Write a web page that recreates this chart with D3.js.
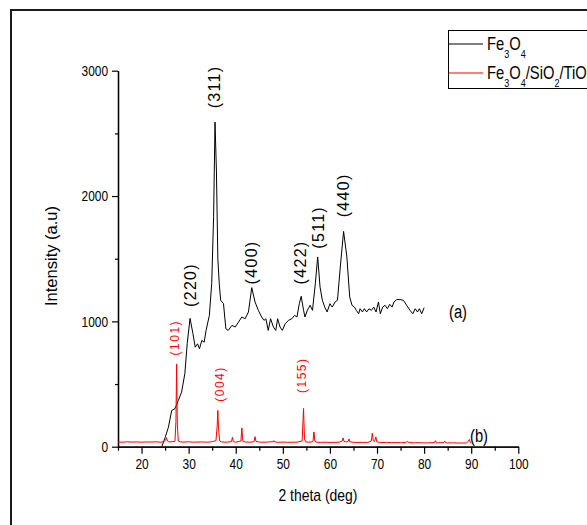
<!DOCTYPE html>
<html>
<head>
<meta charset="utf-8">
<script src="https://cdn.jsdelivr.net/npm/d3@7/dist/d3.min.js"></script>
<style>
  html, body { margin: 0; padding: 0; background: #fff; }
  svg { display: block; font-family: "Liberation Sans", Arial, sans-serif; }
</style>
</head>
<body>
<div id="chart"></div>
<script>
// XRD patterns: Fe3O4 (a) and Fe3O4/SiO2/TiO2 (b).
const W = 587;
const H = 525;
const NARROW = 0.82; // the original uses a narrow face; squeeze Liberation Sans to match

// Fe3O4 pattern (2 theta, intensity)
const blackX = [24.3, 25.0, 25.7, 26.4, 27.1, 27.8, 28.5, 29.2, 29.7, 30.3, 30.9, 31.4, 31.9, 32.3, 32.8, 33.3, 33.7, 34.4, 34.9, 35.3, 35.6, 35.9, 36.2, 36.5, 36.8, 37.4, 37.9, 38.4, 39.2, 39.9, 40.6, 41.3, 42.0, 42.7, 43.4, 44.1, 44.8, 45.5, 46.0, 46.4, 46.9, 47.4, 48.0, 48.5, 48.9, 49.4, 49.9, 50.5, 51.2, 51.9, 52.5, 53.0, 53.5, 53.9, 54.4, 54.7, 55.2, 55.8, 56.3, 56.9, 57.4, 57.9, 58.4, 58.9, 59.4, 60.0, 60.5, 61.1, 61.6, 62.2, 62.9, 63.6, 64.2, 64.7, 65.2, 65.6, 66.1, 66.4, 66.9, 67.3, 67.8, 68.3, 68.8, 69.3, 69.8, 70.3, 70.7, 71.2, 71.7, 72.2, 72.7, 73.2, 73.6, 74.2, 74.9, 75.6, 76.3, 77.0, 77.6, 78.1, 78.6, 79.0, 79.5, 80.0];
const blackY = [0, 72, 155, 288, 304, 368, 435, 584, 824, 1024, 904, 794, 821, 781, 848, 834, 928, 1048, 1304, 1834, 2590, 2200, 1500, 1301, 1168, 1141, 941, 928, 968, 955, 995, 1035, 1021, 1075, 1269, 1155, 1088, 1035, 1008, 1021, 928, 1021, 955, 928, 1021, 955, 928, 981, 1008, 1021, 1048, 1035, 1141, 1200, 1088, 1035, 1088, 1128, 1088, 1301, 1514, 1274, 1168, 1114, 1075, 1141, 1114, 1155, 1168, 1434, 1718, 1514, 1194, 1128, 1114, 1088, 1061, 1101, 1075, 1101, 1075, 1101, 1088, 1114, 1075, 1155, 1061, 1114, 1128, 1101, 1136, 1114, 1155, 1174, 1174, 1168, 1128, 1088, 1061, 1101, 1075, 1101, 1061, 1109];

// Fe3O4/SiO2/TiO2 pattern
const redX = [15, 16, 17, 18, 19, 20, 21, 22, 23, 24, 24.8, 25.1, 25.3, 25.5, 25.8, 26.5, 27.1, 27.3, 27.45, 27.6, 27.8, 28.3, 29, 30, 31, 32, 33, 34, 35, 35.8, 36.05, 36.2, 36.35, 36.6, 37, 38, 39.1, 39.3, 39.5, 40, 41.1, 41.3, 41.5, 42, 43, 43.9, 44.1, 44.3, 45, 46, 47, 48, 48.1, 48.3, 49, 50, 51, 52, 53, 54.1, 54.4, 54.6, 54.9, 55.5, 56.4, 56.6, 56.8, 57.2, 58, 59, 60, 61, 62, 62.6, 62.8, 63.0, 63.5, 63.9, 64.05, 64.2, 65, 66, 67, 68, 68.8, 69.0, 69.2, 69.5, 69.75, 69.95, 70.5, 71, 72, 73, 74, 75, 76, 76.5, 76.8, 77, 78, 79, 80, 81, 82.2, 82.4, 82.6, 83, 84.2, 84.4, 84.6, 85, 86, 87, 88, 89, 89.4, 89.6, 89.8, 90];
const redY = [38, 36, 39, 37, 38, 36, 38, 37, 39, 36, 40, 55, 72, 45, 38, 40, 42, 200, 661, 180, 45, 38, 37, 39, 36, 37, 38, 36, 40, 48, 160, 290, 140, 45, 38, 36, 40, 75, 40, 36, 45, 150, 45, 38, 36, 40, 80, 42, 37, 36, 38, 40, 48, 38, 35, 37, 35, 36, 36, 45, 305, 60, 38, 36, 40, 118, 45, 36, 35, 36, 34, 35, 36, 45, 70, 42, 38, 45, 62, 40, 35, 34, 35, 34, 45, 108, 48, 42, 78, 40, 34, 33, 35, 32, 33, 32, 33, 42, 33, 32, 31, 32, 30, 31, 33, 48, 32, 31, 33, 44, 31, 30, 31, 29, 30, 29, 45, 58, 35, 30];

const xMajor = [20, 30, 40, 50, 60, 70, 80, 90, 100];
const xMinor = [15, 25, 35, 45, 55, 65, 75, 85, 95];
const yMajor = [0, 1000, 2000, 3000];
const yMinor = [500, 1500, 2500];

// Miller-index annotations: [2theta, intensity anchor, label]
const blackPeaks = [[30.5, 1290, '(220)'], [35.6, 2870, '(311)'], [43.5, 1470, '(400)'], [53.8, 1470, '(422)'], [57.6, 1750, '(511)'], [62.9, 2005, '(440)']];
const redPeaks = [[27.0, 870, '(101)'], [36.6, 500, '(004)'], [54.1, 570, '(155)']];

const x = d3.scaleLinear().domain([15, 100]).range([118, 518.3]);
const y = d3.scaleLinear().domain([0, 3000]).range([446.7, 70.7]);

const svg = d3.select('#chart').append('svg')
  .attr('width', W).attr('height', H)
  .attr('viewBox', `0 0 ${W} ${H}`);

// Compress glyphs horizontally, keeping the anchor.
function squeeze(sel, k = NARROW) {
  sel.each(function () {
    const L = this.getComputedTextLength();
    d3.select(this).attr('textLength', L * k).attr('lengthAdjust', 'spacingAndGlyphs');
  });
}

// outer frame (runs past the right and bottom edges)
svg.append('rect')
  .attr('x', 11).attr('y', 10)
  .attr('width', 640).attr('height', 560)
  .attr('fill', 'none').attr('stroke', '#1a1a1a').attr('stroke-width', 2);

function styleAxis(g) {
  g.selectAll('path.domain').attr('stroke', '#000').attr('stroke-width', 1.3);
  g.selectAll('.tick line').attr('stroke', '#000').attr('stroke-width', 1.2);
  g.selectAll('.tick text')
    .attr('font-family', '"Liberation Sans", Arial, sans-serif')
    .attr('font-size', 14.5).attr('fill', '#000');
}

const xAxisG = svg.append('g').attr('transform', `translate(0,${y(0)})`)
  .call(d3.axisBottom(x).tickValues(xMajor).tickSize(7).tickSizeOuter(0).tickPadding(5).tickFormat(d3.format('d')));
styleAxis(xAxisG);
squeeze(xAxisG.selectAll('.tick text'));

const xMinorG = svg.append('g').attr('transform', `translate(0,${y(0)})`)
  .call(d3.axisBottom(x).tickValues(xMinor).tickSize(4).tickSizeOuter(0).tickFormat(''));
styleAxis(xMinorG);

const yAxisG = svg.append('g').attr('transform', `translate(${x(15)},0)`)
  .call(d3.axisLeft(y).tickValues(yMajor).tickSize(6).tickSizeOuter(0).tickPadding(4).tickFormat(d3.format('d')));
styleAxis(yAxisG);
squeeze(yAxisG.selectAll('.tick text'));

const yMinorG = svg.append('g').attr('transform', `translate(${x(15)},0)`)
  .call(d3.axisLeft(y).tickValues(yMinor).tickSize(3).tickSizeOuter(0).tickFormat(''));
styleAxis(yMinorG);

// axis titles
const xTitle = svg.append('text')
  .attr('x', 318).attr('y', 501)
  .attr('text-anchor', 'middle').attr('font-size', 17)
  .text('2 theta (deg)');
squeeze(xTitle);

svg.append('text')
  .attr('transform', 'translate(57,256) rotate(-90)')
  .attr('text-anchor', 'middle').attr('font-size', 16.5)
  .text('Intensity (a.u)');

// patterns
const line = d3.line().x(d => x(d[0])).y(d => y(d[1]));

svg.append('path')
  .datum(d3.zip(blackX, blackY))
  .attr('d', line)
  .attr('fill', 'none').attr('stroke', '#000').attr('stroke-width', 1)
  .attr('stroke-linejoin', 'round');

svg.append('path')
  .datum(d3.zip(redX, redY))
  .attr('d', line)
  .attr('fill', 'none').attr('stroke', '#ff0000').attr('stroke-width', 1)
  .attr('stroke-linejoin', 'round');

// peak labels, rotated
svg.append('g').selectAll('text')
  .data(blackPeaks)
  .join('text')
  .attr('transform', d => `translate(${x(d[0]) + 5},${y(d[1])}) rotate(-90)`)
  .attr('text-anchor', 'middle')
  .attr('font-size', 16).attr('letter-spacing', 1.3).attr('fill', '#000')
  .text(d => d[2]);

svg.append('g').selectAll('text')
  .data(redPeaks)
  .join('text')
  .attr('transform', d => `translate(${x(d[0]) + 4},${y(d[1])}) rotate(-90)`)
  .attr('text-anchor', 'middle')
  .attr('font-size', 12).attr('letter-spacing', 1.5).attr('fill', '#ff0000')
  .text(d => d[2]);

const tagA = svg.append('text')
  .attr('x', 458).attr('y', 318).attr('text-anchor', 'middle')
  .attr('font-size', 18).text('(a)');
const tagB = svg.append('text')
  .attr('x', 479).attr('y', 442).attr('text-anchor', 'middle')
  .attr('font-size', 18).text('(b)');
squeeze(tagA);
squeeze(tagB);

// legend
const legend = svg.append('g');
legend.append('rect')
  .attr('x', 448.5).attr('y', 30.5).attr('width', 160).attr('height', 58)
  .attr('fill', '#fff').attr('stroke', '#000').attr('stroke-width', 1);

const legendItems = [
  { color: '#000', y: 44, parts: [['Fe', 0], ['3', 1], ['O', 0], ['4', 1]] },
  { color: '#ff0000', y: 73, parts: [['Fe', 0], ['3', 1], ['O', 0], ['4', 1], ['/SiO', 0], ['2', 1], ['/TiO', 0], ['2', 1]] },
];
legendItems.forEach(it => {
  legend.append('line')
    .attr('x1', 449).attr('x2', 483).attr('y1', it.y).attr('y2', it.y)
    .attr('stroke', it.color).attr('stroke-width', 1.2);
  const t = legend.append('text')
    .attr('transform', `translate(487,${it.y + 6}) scale(${NARROW},1)`)
    .attr('font-size', 18).attr('fill', '#000');
  let low = false;
  it.parts.forEach(([s, sub]) => {
    const dy = sub && !low ? 8 : (!sub && low ? -8 : 0);
    low = !!sub;
    t.append('tspan').attr('dy', dy).attr('font-size', sub ? 11 : 18).text(s);
  });
});
</script>
</body>
</html>
